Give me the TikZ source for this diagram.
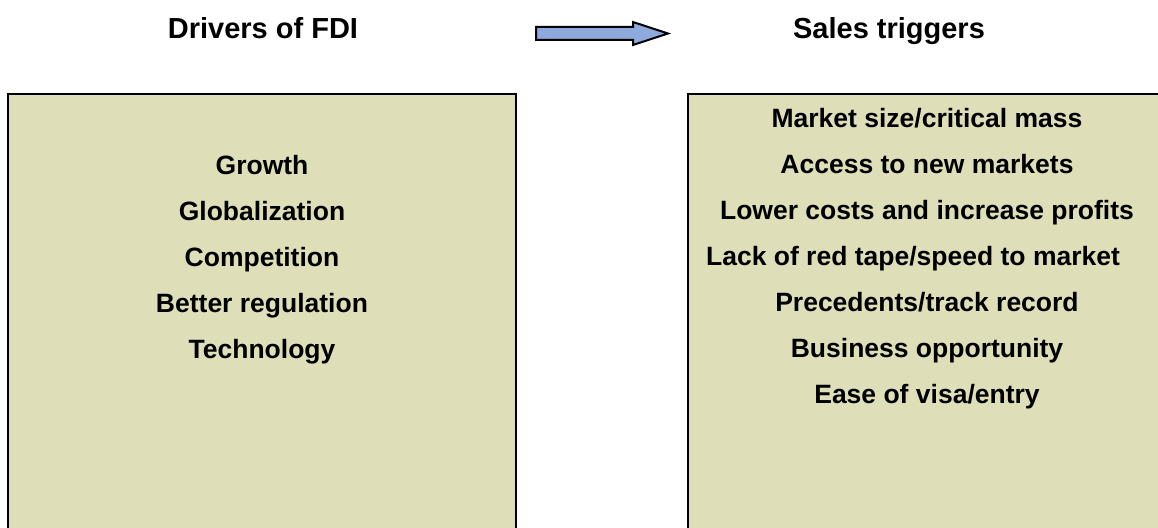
\documentclass[tikz,border=0pt]{standalone}
\usepackage{fontspec}
\setmainfont{Liberation Sans}
\usepackage{xcolor}
\usetikzlibrary{calc}
\definecolor{boxfill}{RGB}{222,223,185}
\definecolor{arrowblue}{RGB}{142,169,219}
\tikzstyle{heading} = [anchor=base, inner sep=0pt, font=\fontsize{29}{33}\selectfont\bfseries]
\tikzstyle{entry} = [anchor=base, inner sep=0pt, font=\fontsize{26.5}{30}\selectfont\bfseries]
\tikzstyle{panel} = [draw=black, line width=2pt, fill=boxfill]

\begin{document}
\begin{tikzpicture}[x=1pt,y=-1pt]
	\clip (0,0) rectangle (1158,527);
	
	% headings and arrow
	\node[heading] (drivers) at (263,39) {Drivers of FDI};
	\node[heading] (triggers) at (889,38) {Sales triggers};
	\coordinate (tail) at (536,33.5);
	\coordinate (tip) at (668,33.5);
	\draw[fill=arrowblue, line width=2pt, line join=miter]
		($(tail)+(0,-6.5)$) -- ($(tip)+(-35,-6.5)$) -- ($(tip)+(-35,-11.5)$) -- (tip)
		-- ($(tip)+(-35,11.5)$) -- ($(tip)+(-35,6.5)$) -- ($(tail)+(0,6.5)$) -- cycle;
	
	% left panel
	\draw[panel] (8,94) rectangle (516,545);
	\foreach \t [count=\i] in {Growth,Globalization,Competition,Better regulation,Technology}
	{
		\node[entry] (driver\i) at (262,{174+46.1*(\i-1)}) {\t};
	}
	
	% right panel
	\draw[panel] (688,94) rectangle (1170,545);
	\foreach \t/\dx [count=\i] in {{Market size/critical mass}/0,{Access to new markets}/0,{Lower costs and increase profits}/0,{Lack of red tape/speed to market}/-14,{Precedents/track record}/0,{Business opportunity}/0,{Ease of visa/entry}/0}
	{
		\node[entry] (trigger\i) at ({927+\dx},{127+46.1*(\i-1)}) {\t};
	}
\end{tikzpicture}
\end{document}
